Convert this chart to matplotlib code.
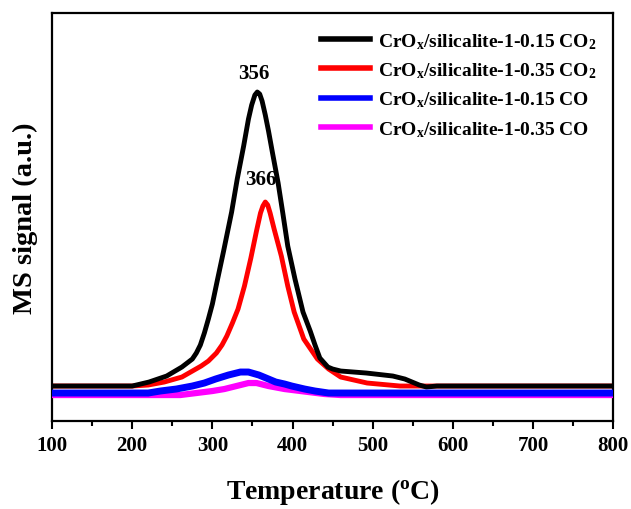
import numpy as np
import matplotlib
matplotlib.use("Agg")
import matplotlib.pyplot as plt
from matplotlib.ticker import MultipleLocator

plt.rcParams["font.family"] = ["Liberation Serif", "DejaVu Serif"]
plt.rcParams["font.weight"] = "bold"
plt.rcParams["mathtext.fontset"] = "custom"
plt.rcParams["mathtext.rm"] = "Liberation Serif:bold"
plt.rcParams["mathtext.it"] = "Liberation Serif:bold:italic"
plt.rcParams["mathtext.bf"] = "Liberation Serif:bold"

# MS signal traces (arbitrary units) vs temperature
t_co2_015 = [100, 150, 200, 221, 243, 262, 275, 280, 285, 290, 295, 300, 306, 314,
             324, 331, 339, 345, 349, 353, 356, 359, 362, 366, 370, 375, 382, 388,
             394, 403, 413, 422, 428, 434, 444, 450, 460, 492, 525, 540, 549, 558,
             567, 580, 650, 700, 800]
s_co2_015 = [35, 35, 35, 39, 45, 54, 62, 68, 76, 88, 102, 117, 140, 170,
             209, 242, 275, 302, 316, 326, 329, 327, 320, 306, 290, 268, 238, 207,
             175, 142, 109, 90, 76, 63, 54, 52, 50, 48, 45, 42, 39, 36,
             34, 35, 35, 35, 35]

t_co2_035 = [100, 150, 200, 220, 240, 262, 286, 295, 305, 312, 318, 325, 332, 340,
             348, 355, 360, 363, 366, 369, 372, 377, 386, 394, 402, 414, 431, 445,
             460, 493, 534, 570, 650, 700, 800]
s_co2_035 = [35, 35, 35, 36, 39, 44, 55, 60, 68, 76, 85, 98, 112, 135,
             163, 190, 208, 215, 219, 216, 208, 192, 165, 135, 109, 82, 62, 52,
             44, 38, 35, 35, 35, 35, 35]

t_co_015 = [100, 150, 200, 220, 235, 255, 275, 290, 304, 320, 335, 345, 358, 370,
            379, 390, 399, 415, 428, 445, 500, 600, 700, 800]
s_co_015 = [28, 28, 28, 28, 30, 32, 35, 38, 42, 46, 49, 49, 46, 42,
            39, 37, 35, 32, 30, 28, 28, 28, 28, 28]

t_co_035 = [100, 150, 200, 260, 280, 300, 315, 330, 345, 355, 370, 390, 420, 440,
            460, 550, 650, 800]
s_co_035 = [26, 26, 26, 26, 28, 30, 32, 35, 38, 38, 35, 32, 29, 27,
            26, 26, 26, 26]

labels = [r"CrO$_\mathrm{x}$/silicalite-1-0.15 CO$_\mathrm{2}$",
          r"CrO$_\mathrm{x}$/silicalite-1-0.35 CO$_\mathrm{2}$",
          r"CrO$_\mathrm{x}$/silicalite-1-0.15 CO",
          r"CrO$_\mathrm{x}$/silicalite-1-0.35 CO"]
colors = ["black", "red", "blue", "magenta"]

peak_black = 356
peak_red = 366

fig = plt.figure(figsize=(6.31, 5.10), dpi=100)
ax = fig.add_axes([0.0824, 0.1725, 0.8896, 0.8])

ax.plot(t_co2_015, s_co2_015, color=colors[0], lw=3.5, label=labels[0], zorder=3)
ax.plot(t_co2_035, s_co2_035, color=colors[1], lw=3.5, label=labels[1], zorder=2)
ax.plot(t_co_015, s_co_015, color=colors[2], lw=5.0, label=labels[2], zorder=5)
ax.plot(t_co_035, s_co_035, color=colors[3], lw=4.5, label=labels[3], zorder=4)

# peak position labels
ax.text(peak_black - 4, max(s_co2_015) + 9, str(peak_black), ha="center", va="bottom",
        fontsize=15, fontweight="bold")
ax.text(peak_red - 6, max(s_co2_035) + 13, str(peak_red), ha="center", va="bottom",
        fontsize=15, fontweight="bold")

ax.set_xlim(100, 800)
ax.set_ylim(0, 408)
ax.xaxis.set_major_locator(MultipleLocator(100))
ax.xaxis.set_minor_locator(MultipleLocator(50))
ax.set_yticks([])
ax.tick_params(axis="x", which="major", direction="out", length=6, width=1.5,
               labelsize=15, pad=4)
ax.tick_params(axis="x", which="minor", direction="out", length=3.5, width=1.5)
for sp in ax.spines.values():
    sp.set_linewidth(1.6)

ax.set_xlabel(r"Temperature ($^\mathrm{o}$C)", fontsize=20, fontweight="bold", labelpad=15)
ax.set_ylabel("MS signal (a.u.)", fontsize=20.5, fontweight="bold", labelpad=10)

leg = ax.legend(loc="upper right", bbox_to_anchor=(0.99, 0.985), frameon=False,
                fontsize=14, handlelength=2.5, labelspacing=0.5, handletextpad=0.4,
                borderaxespad=0.2)
for line in leg.get_lines():
    line.set_linewidth(4)

fig.savefig("out.png", dpi=100)
